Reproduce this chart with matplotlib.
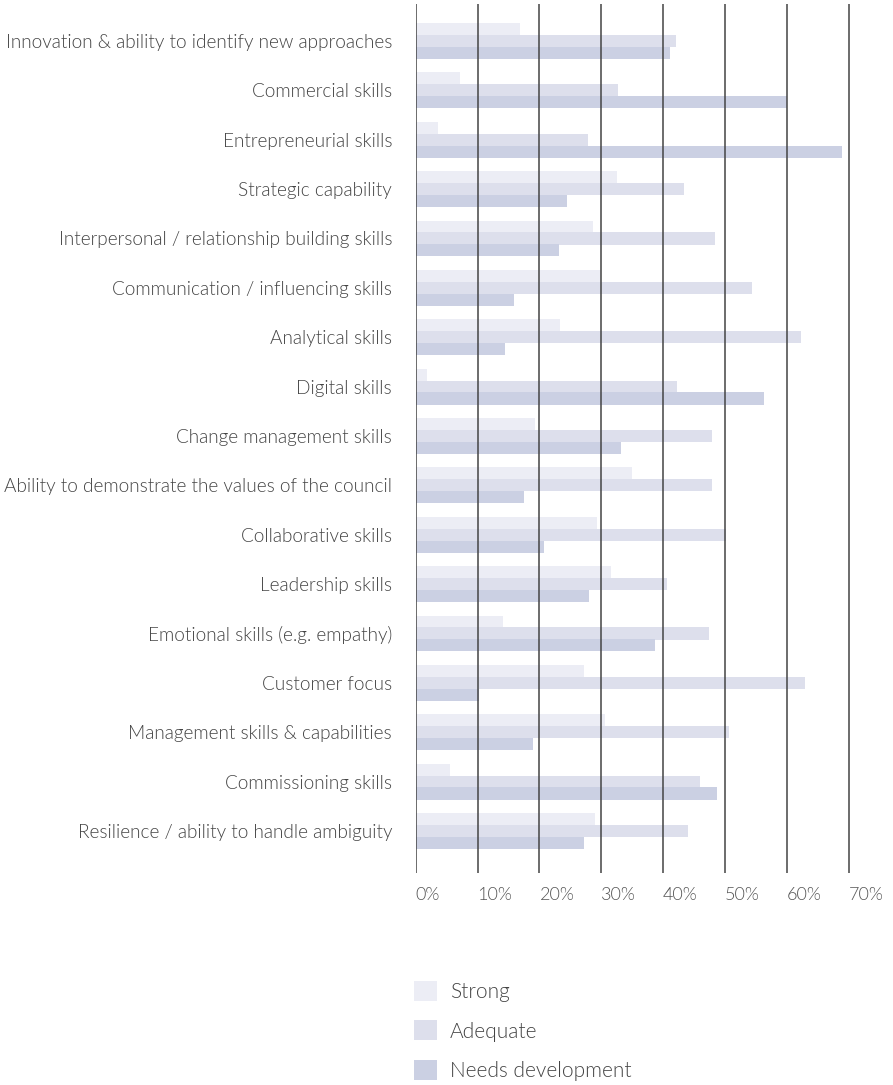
import numpy as np
import matplotlib
matplotlib.use("Agg")
import matplotlib.pyplot as plt
from matplotlib import font_manager as fm
from matplotlib.patches import Patch

# data (percent of respondents)
categories = [
    "Innovation & ability to identify new approaches",
    "Commercial skills",
    "Entrepreneurial skills",
    "Strategic capability",
    "Interpersonal / relationship building skills",
    "Communication / influencing skills",
    "Analytical skills",
    "Digital skills",
    "Change management skills",
    "Ability to demonstrate the values of the council",
    "Collaborative skills",
    "Leadership skills",
    "Emotional skills (e.g. empathy)",
    "Customer focus",
    "Management skills & capabilities",
    "Commissioning skills",
    "Resilience / ability to handle ambiguity",
]
strong = [16.9, 7.2, 3.6, 32.5, 28.7, 30.0, 23.3, 1.8, 19.3, 34.9, 29.3, 31.6, 14.1, 27.2, 30.6, 5.5, 29.0]
adequate = [42.1, 32.7, 27.9, 43.4, 48.4, 54.4, 62.3, 42.2, 47.9, 47.9, 50.1, 40.6, 47.4, 62.9, 50.6, 46.0, 44.0]
needs_dev = [41.1, 60.1, 68.9, 24.5, 23.2, 15.9, 14.4, 56.3, 33.2, 17.5, 20.7, 28.0, 38.7, 10.2, 19.0, 48.7, 27.2]

series_names = ["Strong", "Adequate", "Needs development"]
xticks = [0, 10, 20, 30, 40, 50, 60, 70]

colors = ["#ECEDF5", "#DDDFEC", "#CBD0E3"]

# Lato Light if it can be found, otherwise plain Lato
light = [f for f in fm.findSystemFonts() if f.endswith("Lato-Light.ttf")]
def font(size):
    if light:
        return fm.FontProperties(fname=light[0], size=size)
    return fm.FontProperties(family=["Lato", "DejaVu Sans"], size=size)

W, H = 893, 1085
fig = plt.figure(figsize=(W / 100, H / 100), dpi=100)

# axes placed in pixel terms
left_px, right_px = 415.7, 415.7 + 71 * 6.186
top_px, bot_px = 4, 873
ax = fig.add_axes([left_px / W, 1 - bot_px / H, (right_px - left_px) / W, (bot_px - top_px) / H])

y = np.arange(len(categories))
off = 0.24
h = 0.245
ax.barh(y - off, strong, height=h, color=colors[0], zorder=1)
ax.barh(y, adequate, height=h, color=colors[1], zorder=1)
ax.barh(y + off, needs_dev, height=h, color=colors[2], zorder=1)

ax.set_xlim(0, 71)
ax.set_ylim(16.85, -0.749)

for t in xticks:
    ax.axvline(t, color="#444444", lw=1.1, zorder=3)

ax.set_yticks(y)
ax.set_yticklabels(categories, fontproperties=font(13.7), color="#444444")
ax.set_xticks(xticks)
ax.set_xticklabels([f"{t}%" for t in xticks], fontproperties=font(13), color="#555555",
                   ha="left")
ax.tick_params(axis="y", length=0, pad=17)
ax.tick_params(axis="x", length=0, pad=10)

for s in ax.spines.values():
    s.set_visible(False)

handles = [Patch(facecolor=c, edgecolor="none") for c in colors]
fig.legend(handles, series_names, loc="upper left",
           bbox_to_anchor=(414 / W, 1 - 981 / H), frameon=False,
           prop=font(15),
           handlelength=1.1, handleheight=1.1, handletextpad=0.62,
           labelspacing=0.88, borderpad=0, borderaxespad=0, labelcolor="#444444")

fig.savefig("out.png", dpi=100)
